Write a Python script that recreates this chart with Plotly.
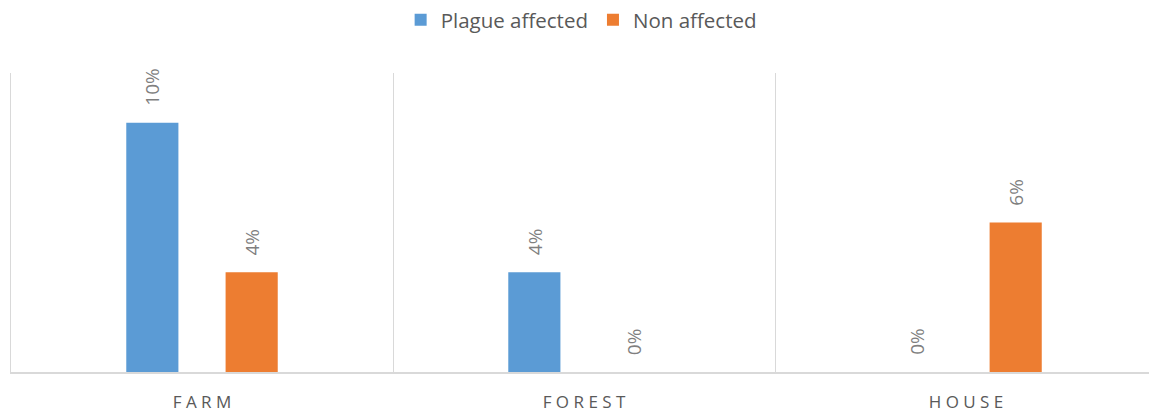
import plotly.graph_objects as go

categories = ["FARM", "FOREST", "HOUSE"]
category_labels = ["F A R M", "F O R E S T", "H O U S E"]
plague_affected = [0.10, 0.04, 0.00]
non_affected = [0.04, 0.00, 0.06]

BLUE = "#5B9BD5"
ORANGE = "#ED7D31"
FONT = "Open Sans"

fig = go.Figure()
fig.add_trace(go.Bar(name="Plague affected", x=categories, y=plague_affected,
                     marker=dict(color=BLUE, line=dict(width=0))))
fig.add_trace(go.Bar(name="Non affected", x=categories, y=non_affected,
                     marker=dict(color=ORANGE, line=dict(width=0))))

offset = 0.13
for i, cat in enumerate(categories):
    for val, dx in ((plague_affected[i], -offset), (non_affected[i], offset)):
        fig.add_annotation(x=i + dx, y=val, xref="x", yref="y",
                           text=f"{val*100:.0f}%", showarrow=False,
                           textangle=-90, yanchor="bottom", xanchor="center",
                           yshift=15,
                           font=dict(family=FONT, size=19, color="#7F7F7F"))

fig.update_layout(
    width=1149, height=414,
    margin=dict(l=11, r=0, t=73, b=42),
    paper_bgcolor="white", plot_bgcolor="white",
    barmode="group", bargap=0.48, bargroupgap=0.475,
    showlegend=True,
    legend=dict(orientation="h", x=0.501, xanchor="center", y=1.0, yref="container",
                yanchor="top", font=dict(family=FONT, size=20.5, color="#595959"),
                itemwidth=30, tracegroupgap=0),
    font=dict(family=FONT, color="#595959"),
)
fig.update_xaxes(
    type="category", range=[-0.5, 2.479],
    tickmode="array", tickvals=categories, ticktext=category_labels,
    tickson="boundaries", ticks="", showgrid=True, gridcolor="#D9D9D9", gridwidth=1,
    showline=True, linecolor="#D9D9D9", linewidth=1.5,
    tickfont=dict(family=FONT, size=17, color="#595959"),
    ticklabelstandoff=14,
)
fig.update_yaxes(
    range=[0, 0.12], showgrid=False, zeroline=False, showticklabels=False,
    showline=True, linecolor="#D9D9D9", linewidth=1, ticks="",
)

fig.write_html("out.html", config={"displayModeBar": False},
               post_script="document.body.style.margin='0';document.body.style.overflow='hidden';")
